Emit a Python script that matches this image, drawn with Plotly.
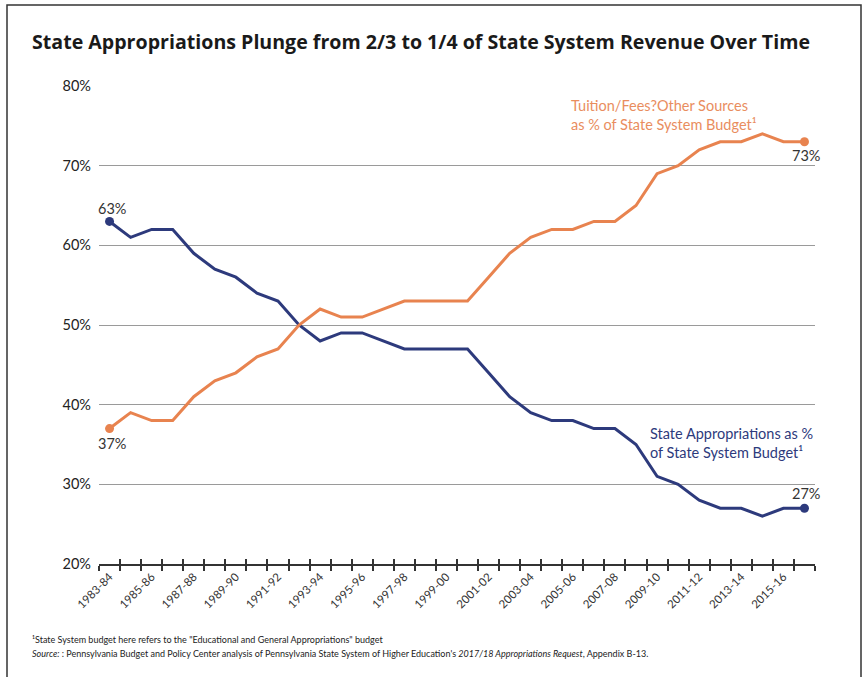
import plotly.graph_objects as go

# Fiscal years, 1983-84 through 2016-17
years = [f"{y}-{str(y + 1)[-2:]}" for y in range(1983, 2017)]

# Share of the State System budget (percent)
state_appropriations = [63, 61, 62, 62, 59, 57, 56, 54, 53, 50, 48, 49, 49, 48, 47, 47, 47,
                        47, 44, 41, 39, 38, 38, 37, 37, 35, 31, 30, 28, 27, 27, 26, 27, 27]
tuition_other = [37, 39, 38, 38, 41, 43, 44, 46, 47, 50, 52, 51, 51, 52, 53, 53, 53,
                 53, 56, 59, 61, 62, 62, 63, 63, 65, 69, 70, 72, 73, 73, 74, 73, 73]

y_ticks = [20, 30, 40, 50, 60, 70, 80]

NAVY = "#2d3a7c"
ORANGE = "#e8834f"
ORANGE_TEXT = "#e98d5e"
FONT = "Lato"
TITLE_FONT = "Open Sans"

W, H = 863, 677
L, R, T, B = 99, 48, 86, 113
PW, PH = W - L - R, H - T - B

idx = list(range(len(years)))
boundaries = [i - 0.5 for i in range(len(years) + 1)]
label_idx = idx[::2]


def px_to_paper(px, py):
    return (px - L) / PW, (H - B - py) / PH


fig = go.Figure()

fig.add_trace(go.Scatter(
    x=idx, y=state_appropriations, mode="lines",
    line=dict(color=NAVY, width=3), hoverinfo="skip", showlegend=False))
fig.add_trace(go.Scatter(
    x=idx, y=tuition_other, mode="lines",
    line=dict(color=ORANGE, width=3), hoverinfo="skip", showlegend=False))

# endpoint markers (drawn on the overlay axis that carries the upward tick marks)
for series, color in [(state_appropriations, NAVY), (tuition_other, ORANGE)]:
    fig.add_trace(go.Scatter(
        x=[idx[0], idx[-1]], y=[series[0], series[-1]], mode="markers", xaxis="x2",
        marker=dict(color=color, size=9), hoverinfo="skip", showlegend=False))

# endpoint value labels
ends = [
    (idx[0], state_appropriations[0], 2, 13),
    (idx[0], tuition_other[0], 2, -15),
    (idx[-1], tuition_other[-1], 2, -14),
    (idx[-1], state_appropriations[-1], 2, 15),
]
for x, v, xs, ys in ends:
    fig.add_annotation(x=x, y=v, text=f"{v}%", showarrow=False, xshift=xs, yshift=ys,
                       font=dict(family=FONT, size=14.5, color="#333333"))

# series labels
fig.add_annotation(x=21.8, y=76.3, text="Tuition/Fees?Other Sources<br>as % of State System Budget¹",
                   showarrow=False, xanchor="left", yanchor="middle", align="left",
                   font=dict(family=FONT, size=14.5, color=ORANGE_TEXT))
fig.add_annotation(x=25.55, y=35.2, text="State Appropriations as %<br>of State System Budget¹",
                   showarrow=False, xanchor="left", yanchor="middle", align="left",
                   font=dict(family=FONT, size=14.5, color=NAVY))

# footnotes
fx, fy = px_to_paper(30, 639)
fig.add_annotation(xref="paper", yref="paper", x=fx, y=fy, xanchor="left", yanchor="middle",
                   showarrow=False, align="left",
                   text='¹State System budget here refers to the "Educational and General Appropriations" budget',
                   font=dict(family=FONT, size=9, color="#222222"))
fx, fy = px_to_paper(30, 653)
fig.add_annotation(xref="paper", yref="paper", x=fx, y=fy, xanchor="left", yanchor="middle",
                   showarrow=False, align="left",
                   text="<i>Source:</i> : Pennsylvania Budget and Policy Center analysis of Pennsylvania State System "
                        "of Higher Education's <i>2017/18 Appropriations Request</i>, Appendix B-13.",
                   font=dict(family=FONT, size=9, color="#222222"))

# outer frame
x0, y0 = px_to_paper(7, 5)
x1, y1 = px_to_paper(861, 700)
fig.add_shape(type="rect", xref="paper", yref="paper", x0=x0, y0=y1, x1=x1, y1=y0,
              line=dict(color="#333333", width=1.5), layer="below")

fig.update_layout(
    width=W, height=H,
    margin=dict(l=L, r=R, t=T, b=B),
    paper_bgcolor="white", plot_bgcolor="white",
    title=dict(text="<b>State Appropriations Plunge from 2/3 to 1/4 of State System Revenue Over Time</b>",
               x=32 / W, xref="container", xanchor="left",
               y=1 - 42 / H, yref="container", yanchor="middle",
               font=dict(family=TITLE_FONT, size=19.6, color="#1a1a1a")),
    xaxis=dict(
        range=[-0.5, len(years) - 0.5], showgrid=False, zeroline=False,
        showline=True, linecolor="#333333", linewidth=1.5,
        tickmode="array", tickvals=label_idx, ticktext=[years[i] for i in label_idx],
        ticks="", tickangle=-45, tickfont=dict(family=FONT, size=11.5, color="#333333"),
        minor=dict(tickmode="array", tickvals=boundaries, ticks="outside", ticklen=5,
                   tickcolor="#333333", tickwidth=1.5),
    ),
    xaxis2=dict(
        range=[-0.5, len(years) - 0.5], overlaying="x", anchor="y", side="bottom",
        showgrid=False, zeroline=False, showline=False, showticklabels=False,
        tickmode="array", tickvals=boundaries, ticks="inside", ticklen=5,
        tickcolor="#333333", tickwidth=1.5,
    ),
    yaxis=dict(
        range=[20, 80], tickmode="array", tickvals=y_ticks,
        ticktext=[f"{v}%" for v in y_ticks], showgrid=True, gridcolor="#9a9a9a", gridwidth=1,
        zeroline=False, showline=False, ticks="", ticklabelstandoff=7,
        tickfont=dict(family=FONT, size=14.5, color="#222222"),
    ),
)

fig.write_html("out.html")
